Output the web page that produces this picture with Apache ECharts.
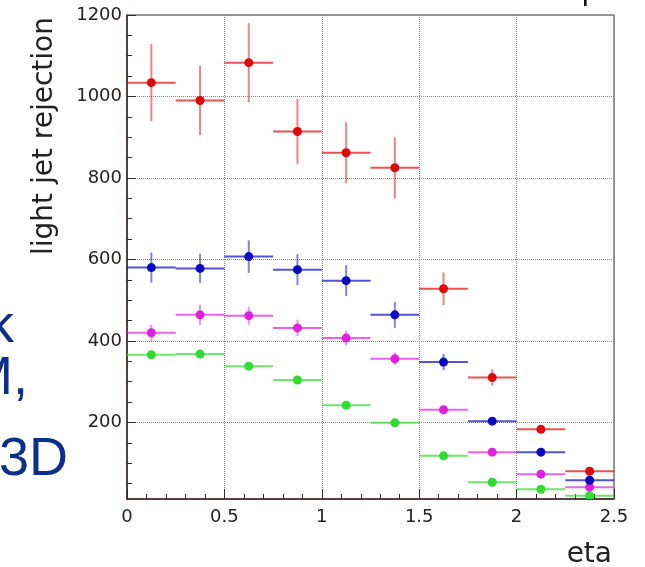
<!DOCTYPE html>
<html>
<head>
<meta charset="utf-8">
<script src="https://cdn.jsdelivr.net/npm/echarts@6/dist/echarts.min.js"></script>
<style>html,body{margin:0;padding:0;background:#fff;}#c{width:645px;height:567px;}</style>
</head>
<body>
<div id="c"></div>
<script>
// ---- data ----
const binCenters = [0.125, 0.375, 0.625, 0.875, 1.125, 1.375, 1.625, 1.875, 2.125, 2.375];
const binHalfWidth = 0.125;
const redValues = [1034, 990, 1083, 914, 862, 825, 528, 310, 183, 80];
const redErrors = [95, 85, 97, 80, 75, 75, 40, 20, 8, 5];
const blueValues = [580, 578, 607, 575, 548, 464, 348, 203, 127, 58];
const blueErrors = [37, 36, 40, 38, 38, 32, 20, 8, 5, 3];
const magentaValues = [420, 464, 462, 432, 407, 356, 231, 127, 73, 41];
const magentaErrors = [20, 25, 22, 20, 18, 15, 8, 6, 4, 3];
const greenValues = [366, 368, 338, 304, 242, 199, 118, 53, 36, 20];
const greenErrors = [10, 10, 10, 8, 6, 4, 4, 3, 2, 2];
const yTickValues = [200, 400, 600, 800, 1000, 1200];
const yMinorTickValues = [50, 100, 150, 250, 300, 350, 450, 500, 550, 650, 700, 750, 850, 900, 950, 1050, 1100, 1150];
const xTitle = 'eta';
const yTitle = 'light jet rejection';
const sideTexts = ['k', 'M,', '3D'];

const seriesDefs = [
  {name: 'green', color: '#2fdc2f', values: greenValues, errors: greenErrors},
  {name: 'magenta', color: '#e020e0', values: magentaValues, errors: magentaErrors},
  {name: 'blue', color: '#0a0ac0', values: blueValues, errors: blueErrors},
  {name: 'red', color: '#dd0a0a', values: redValues, errors: redErrors}
];

function makeSeries(def) {
  return {
    type: 'custom',
    name: def.name,
    data: binCenters.map((c, i) => [c, def.values[i], def.errors[i]]),
    clip: true,
    renderItem: function (params, api) {
      const x = api.value(0), y = api.value(1), e = api.value(2);
      const pL = api.coord([x - binHalfWidth, y]);
      const pR = api.coord([x + binHalfWidth, y]);
      const pT = api.coord([x, y + e]);
      const pB = api.coord([x, y - e]);
      const pC = api.coord([x, y]);
      return {
        type: 'group',
        children: [
          {type: 'line', shape: {x1: pL[0], y1: pL[1], x2: pR[0], y2: pR[1]},
           style: {stroke: def.color, lineWidth: 2, opacity: 0.7}},
          {type: 'line', shape: {x1: pT[0], y1: pT[1], x2: pB[0], y2: pB[1]},
           style: {stroke: def.color, lineWidth: 2, opacity: 0.5}},
          {type: 'circle', shape: {cx: pC[0], cy: pC[1], r: 4.5},
           style: {fill: def.color}}
        ]
      };
    }
  };
}

const axisColor = '#3b2626';
const chart = echarts.init(document.getElementById('c'), null, {renderer: 'canvas'});
chart.setOption({
  animation: false,
  backgroundColor: '#ffffff',
  grid: {left: 127, right: 31, top: 15, bottom: 68, show: true, borderColor: '#333', borderWidth: 1, backgroundColor: 'transparent'},
  xAxis: {
    type: 'value', min: 0, max: 2.5, interval: 0.5,
    axisLine: {show: true, onZero: false, lineStyle: {color: axisColor, width: 1.5}},
    axisTick: {show: true, inside: true, length: 10, lineStyle: {color: axisColor}},
    minorTick: {show: true, splitNumber: 5, length: 5, lineStyle: {color: axisColor}},
    axisLabel: {fontFamily: 'DejaVu Sans', fontSize: 18, color: '#222', margin: 9},
    splitLine: {show: true, lineStyle: {color: '#888', type: 'dotted', width: 1}}
  },
  yAxis: [{
    type: 'value', min: 12, max: 1200, splitNumber: 6,
    axisLine: {show: true, onZero: false, lineStyle: {color: axisColor, width: 1.5}},
    axisTick: {show: true, inside: true, length: 9, customValues: yTickValues, lineStyle: {color: axisColor}},
    axisLabel: {customValues: yTickValues, formatter: v => String(v), fontFamily: 'DejaVu Sans', fontSize: 18, color: '#222', margin: 5},
    splitLine: {show: true, lineStyle: {color: '#888', type: 'dotted', width: 1}}
  }, {
    type: 'value', min: 12, max: 1200, position: 'left',
    axisLine: {show: false},
    axisTick: {show: true, inside: true, length: 5, customValues: yMinorTickValues, lineStyle: {color: axisColor}},
    axisLabel: {show: false},
    splitLine: {show: false}
  }],
  graphic: [
    {type: 'text', x: 45, y: 136, rotation: Math.PI / 2,
     style: {text: yTitle, font: '28px "DejaVu Sans"', fill: '#222', align: 'center', verticalAlign: 'middle'}},
    {type: 'text', x: 612, y: 555,
     style: {text: xTitle, font: '28px "DejaVu Sans"', fill: '#222', align: 'right', verticalAlign: 'middle'}},
    {type: 'text', x: 14, y: 354,
     style: {text: sideTexts[0], font: '54px "Liberation Sans"', fill: '#0b2f8a', align: 'right', verticalAlign: 'bottom'}},
    {type: 'text', x: 28, y: 406,
     style: {text: sideTexts[1], font: '54px "Liberation Sans"', fill: '#0b2f8a', align: 'right', verticalAlign: 'bottom'}},
    {type: 'text', x: 68, y: 487,
     style: {text: sideTexts[2], font: '54px "Liberation Sans"', fill: '#0b2f8a', align: 'right', verticalAlign: 'bottom'}},
    {type: 'text', x: 582, y: 7,
     style: {text: 'p', font: '30px "Liberation Sans"', fill: '#111', align: 'left', verticalAlign: 'bottom'}}
  ],
  series: seriesDefs.map(makeSeries)
});
</script>
</body>
</html>
